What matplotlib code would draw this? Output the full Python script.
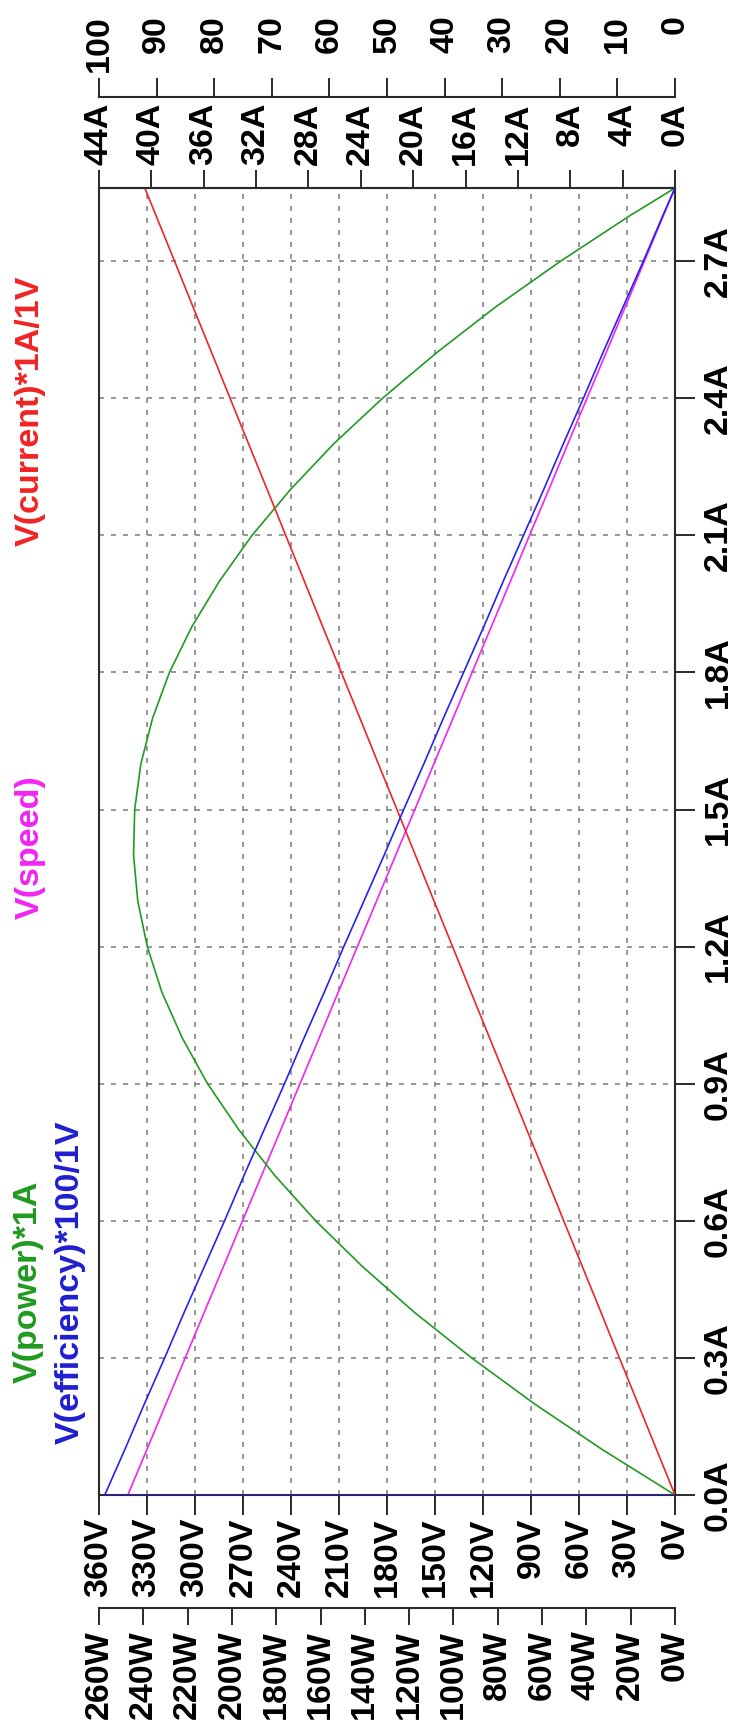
import matplotlib
matplotlib.use('Agg')
import matplotlib.pyplot as plt

# load axis (drawn vertically in the rotated LTspice picture), in A
load = [0.0, 0.0, 0.1, 0.2, 0.3, 0.4, 0.5, 0.6, 0.7, 0.8, 0.9, 1.0, 1.1, 1.2, 1.3, 1.4,
        1.5, 1.6, 1.7, 1.8, 1.9, 2.0, 2.1, 2.2, 2.3, 2.4, 2.5, 2.6, 2.7, 2.8, 2.86]

# traces
speed = [0, 342, 330.0, 318.1, 306.1, 294.2, 282.2, 270.3, 258.3, 246.3, 234.4, 222.4,
         210.5, 198.5, 186.5, 174.6, 162.6, 150.7, 138.7, 126.8, 114.8, 102.8, 90.9,
         78.9, 67.0, 55.0, 43.0, 31.1, 19.1, 7.2, 0]
power = [0, 0, 33.0, 63.6, 91.8, 117.7, 141.1, 162.2, 180.8, 197.0, 211.0, 222.4, 231.6,
         238.2, 242.5, 244.4, 243.9, 241.1, 235.8, 228.2, 218.1, 205.6, 190.9, 173.6,
         154.1, 132.0, 107.5, 80.9, 51.6, 20.2, 0]
current = [0, 0, 1.42, 2.83, 4.25, 5.66, 7.08, 8.50, 9.91, 11.33, 12.74, 14.16, 15.58,
           16.99, 18.41, 19.83, 21.24, 22.66, 24.07, 25.49, 26.91, 28.32, 29.74, 31.15,
           32.57, 33.99, 35.40, 36.82, 38.23, 39.65, 40.5]
efficiency = [0, 99.0, 95.5, 92.1, 88.6, 85.2, 81.7, 78.2, 74.8, 71.3, 67.8, 64.4, 60.9,
              57.5, 54.0, 50.5, 47.1, 43.6, 40.2, 36.7, 33.2, 29.8, 26.3, 22.8, 19.4,
              15.9, 12.5, 9.0, 5.5, 2.1, 0]

# tick values
load_ticks = [0.0, 0.3, 0.6, 0.9, 1.2, 1.5, 1.8, 2.1, 2.4, 2.7]
speed_ticks = list(range(0, 361, 30))
power_ticks = list(range(0, 261, 20))
current_ticks = list(range(0, 45, 4))
eff_ticks = list(range(0, 101, 10))

trace_names = ["V(current)*1A/1V", "V(speed)", "V(power)*1A", "V(efficiency)*100/1V"]

plt.rcParams['font.family'] = ['Liberation Sans', 'DejaVu Sans']
plt.rcParams['font.weight'] = 'bold'

W, H = 734, 1732
fig = plt.figure(figsize=(W / 100, H / 100), dpi=100)


def fx(px):
    return px / W


def fy(py):
    return 1 - py / H


RED = '#f02424'
GREEN = '#219a21'
BLUE = '#2424f0'
MAG = '#f224f2'
SPINE = '#2a2a2a'
FS = 24.5

ax = fig.add_axes([fx(99), fy(1495), fx(675) - fx(99), fy(188) - fy(1495)])
ax.plot(speed, load, color=MAG, lw=1.2)
ax.set_xlim(360, 0)
ax.set_ylim(0, 2.86)
ax.set_xticks(speed_ticks)
ax.set_xticklabels([f'{v}V' for v in speed_ticks], rotation=90)
ax.tick_params(axis='x', direction='out', length=14.4, width=1.4, pad=2,
               labelsize=FS, color=SPINE)
ax.yaxis.tick_right()
ax.set_yticks(load_ticks)
ax.set_yticklabels([f'{v:.1f}A' for v in load_ticks], rotation=90, va='center')
ax.tick_params(axis='y', direction='out', length=14.4, width=1.4, pad=5.5,
               labelsize=FS, color=SPINE)
ax.grid(True, color='#858585', lw=1.2, linestyle=(0, (3, 4.2)))
for s in ax.spines.values():
    s.set_color(SPINE)
    s.set_linewidth(1.5)

# power axis below
ax_w = ax.twiny()
for name, s in ax_w.spines.items():
    s.set_visible(name == 'bottom')
ax_w.spines['bottom'].set_position(('outward', 81.4))
ax_w.spines['bottom'].set_color(SPINE)
ax_w.spines['bottom'].set_linewidth(1.5)
ax_w.plot(power, load, color=GREEN, lw=1.2)
ax_w.set_xlim(260, 0)
ax_w.xaxis.tick_bottom()
ax_w.tick_params(axis='x', direction='out', length=12.2, width=1.4, pad=3.6,
                 labelsize=FS, color=SPINE)
ax_w.set_xticks(power_ticks)
ax_w.set_xticklabels([f'{v}W' for v in power_ticks], rotation=90)

# current axis on top
ax_a = ax.twiny()
for name, s in ax_a.spines.items():
    s.set_visible(name == 'top')
ax_a.spines['top'].set_color(SPINE)
ax_a.spines['top'].set_linewidth(1.5)
ax_a.plot(current, load, color=RED, lw=1.2)
ax_a.set_xlim(44, 0)
ax_a.tick_params(axis='x', direction='out', length=13, width=1.4, pad=48.2,
                 labelsize=FS, color=SPINE)
ax_a.set_xticks(current_ticks)
ax_a.set_xticklabels([f'{v}A' for v in current_ticks], rotation=90, va='top')

# efficiency axis on top, outer
ax_e = ax.twiny()
for name, s in ax_e.spines.items():
    s.set_visible(name == 'top')
ax_e.spines['top'].set_position(('outward', 65.5))
ax_e.spines['top'].set_color(SPINE)
ax_e.spines['top'].set_linewidth(1.5)
ax_e.plot(efficiency, load, color=BLUE, lw=1.2)
ax_e.set_xlim(100, 0)
ax_e.tick_params(axis='x', direction='out', length=13.7, width=1.4, pad=45,
                 labelsize=FS, color=SPINE)
ax_e.set_xticks(eff_ticks)
ax_e.set_xticklabels([f'{v}' for v in eff_ticks], rotation=90, va='top')

# trace labels (LTspice header, rotated)
LFS = 24.5
fig.text(fx(30), fy(411), trace_names[0], color=RED, rotation=90,
         ha='center', va='center', fontsize=LFS, fontweight='bold')
fig.text(fx(30), fy(847), trace_names[1], color=MAG, rotation=90,
         ha='center', va='center', fontsize=LFS, fontweight='bold')
fig.text(fx(28), fy(1282), trace_names[2], color=GREEN, rotation=90,
         ha='center', va='center', fontsize=LFS, fontweight='bold')
fig.text(fx(70), fy(1282), trace_names[3], color='#1f1fd0', rotation=90,
         ha='center', va='center', fontsize=LFS, fontweight='bold')

fig.savefig('out.png', dpi=100)
